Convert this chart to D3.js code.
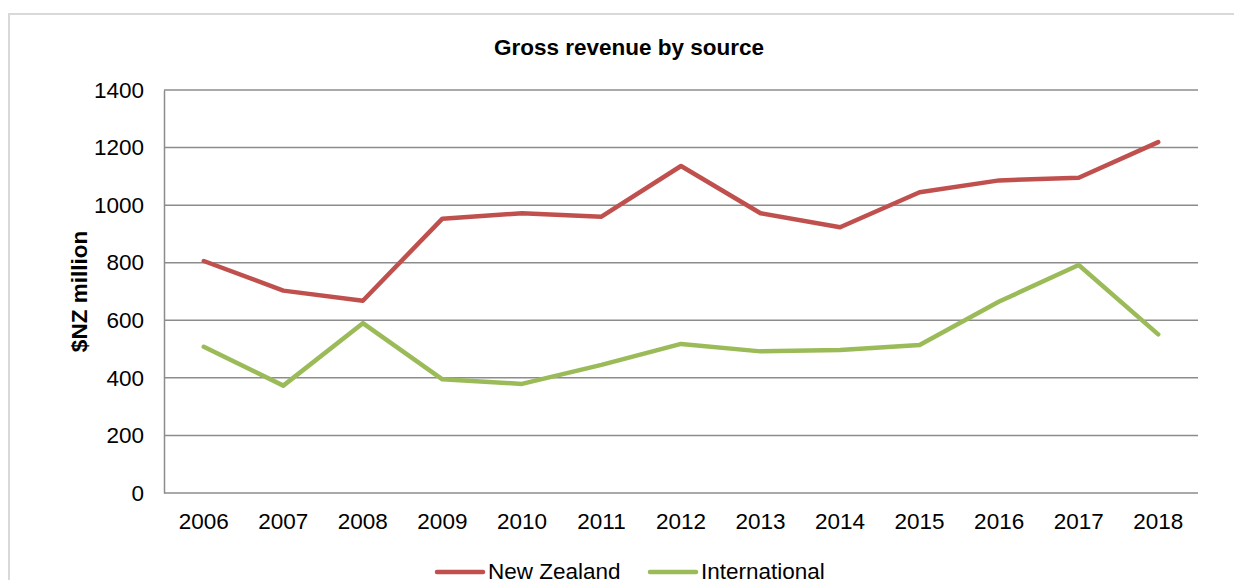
<!DOCTYPE html>
<html>
<head>
<meta charset="utf-8">
<script src="https://cdn.jsdelivr.net/npm/d3@7"></script>
<style>
  body { margin: 0; background: #fff; }
  svg text { font-family: "Liberation Sans", Arial, sans-serif; fill: #000; }
</style>
</head>
<body>
<div id="chart"></div>
<script>
const years = ["2006", "2007", "2008", "2009", "2010", "2011", "2012",
  "2013", "2014", "2015", "2016", "2017", "2018"];
const newZealand = [806, 703, 668, 953, 972, 960, 1136, 972, 923, 1045, 1086, 1095, 1219];
const international = [508, 373, 590, 395, 379, 445, 518, 492, 497, 514, 665, 792, 551];
const yTicks = [0, 200, 400, 600, 800, 1000, 1200, 1400];
const seriesNames = ["New Zealand", "International"];

const W = 1234, H = 580;
const MARGIN = { LEFT: 164, RIGHT: 36, TOP: 90, BOTTOM: 87 };
const WIDTH = W - MARGIN.LEFT - MARGIN.RIGHT;
const HEIGHT = H - MARGIN.TOP - MARGIN.BOTTOM;
const colors = ["#c0504d", "#9bbb59"];

const svg = d3.select("#chart").append("svg")
  .attr("width", W)
  .attr("height", H);

// outer chart frame
svg.append("rect")
  .attr("x", 9).attr("y", 14)
  .attr("width", 1260).attr("height", 620)
  .attr("fill", "none")
  .attr("stroke", "#d9d9d9")
  .attr("stroke-width", 2);

svg.append("text")
  .attr("x", 629).attr("y", 55)
  .attr("text-anchor", "middle")
  .style("font-size", "22.5px")
  .style("font-weight", "bold")
  .text("Gross revenue by source");

const g = svg.append("g")
  .attr("transform", `translate(${MARGIN.LEFT}, ${MARGIN.TOP})`);

const x = d3.scaleBand().domain(years).range([0, WIDTH]);
const y = d3.scaleLinear().domain([0, 1400]).range([HEIGHT, 0]);

// gridlines
g.selectAll(".grid")
  .data(yTicks)
  .enter().append("line")
  .attr("class", "grid")
  .attr("x1", 0).attr("x2", WIDTH)
  .attr("y1", d => y(d)).attr("y2", d => y(d))
  .attr("stroke", "#8c8c8c")
  .attr("stroke-width", 1.5);

const yAxis = g.append("g")
  .call(d3.axisLeft(y).tickValues(yTicks).tickFormat(d3.format("d"))
    .tickSize(0).tickPadding(20));
yAxis.select(".domain").attr("stroke", "#8c8c8c").attr("stroke-width", 1.5);
yAxis.selectAll("text").style("font-size", "22.5px")
  .style("font-family", "'Liberation Sans', Arial, sans-serif");

const xAxis = g.append("g")
  .attr("transform", `translate(0, ${HEIGHT})`)
  .call(d3.axisBottom(x).tickSize(0).tickPadding(20));
xAxis.select(".domain").remove();
xAxis.selectAll("text").style("font-size", "22.5px")
  .style("font-family", "'Liberation Sans', Arial, sans-serif");

svg.append("text")
  .attr("transform", `translate(87, ${MARGIN.TOP + HEIGHT / 2}) rotate(-90)`)
  .attr("text-anchor", "middle")
  .style("font-size", "22.5px")
  .style("font-weight", "bold")
  .text("$NZ million");

const line = d3.line()
  .x((d, i) => x(years[i]) + x.bandwidth() / 2)
  .y(d => y(d));

[newZealand, international].forEach((vals, k) => {
  g.append("path")
    .datum(vals)
    .attr("d", line)
    .attr("fill", "none")
    .attr("stroke", colors[k])
    .attr("stroke-width", 4.5)
    .attr("stroke-linejoin", "round")
    .attr("stroke-linecap", "round");
});

// legend (cut by the bottom edge, as in the source)
const legendX = [437, 650];
seriesNames.forEach((name, k) => {
  svg.append("line")
    .attr("x1", legendX[k]).attr("x2", legendX[k] + 46)
    .attr("y1", 572).attr("y2", 572)
    .attr("stroke", colors[k])
    .attr("stroke-width", 4.5)
    .attr("stroke-linecap", "round");
  svg.append("text")
    .attr("x", legendX[k] + 51).attr("y", 579)
    .style("font-size", "22.5px")
    .text(name);
});
</script>
</body>
</html>
